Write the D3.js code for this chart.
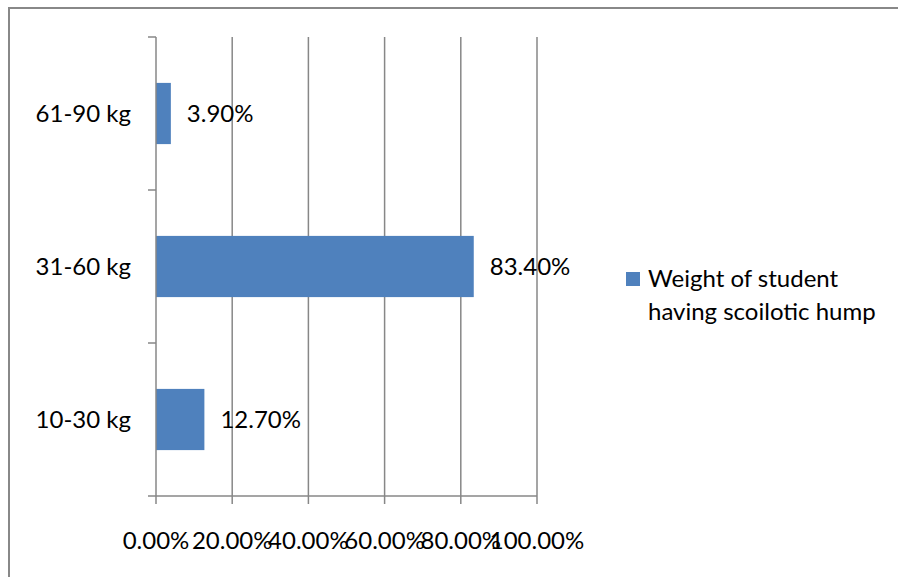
<!DOCTYPE html>
<html>
<head>
<meta charset="utf-8">
<script src="https://cdn.jsdelivr.net/npm/d3@7"></script>
<style>
  body { margin: 0; background: #fff; }
  svg text { font-family: Lato, "Noto Sans", sans-serif; fill: #000; }
</style>
</head>
<body>
<svg id="chart" width="898" height="577"></svg>
<script>
// data
var categories = ["10-30 kg", "31-60 kg", "61-90 kg"];
var values = [12.7, 83.4, 3.9];
var valueLabels = ["12.70%", "83.40%", "3.90%"];
var xTicks = [0, 20, 40, 60, 80, 100];
var xTickLabels = ["0.00%", "20.00%", "40.00%", "60.00%", "80.00%", "100.00%"];
var seriesName = ["Weight of student", "having scoilotic hump"];

var barColor = "#4f81bd";
var gridColor = "#878787";

var svg = d3.select("#chart");

// outer frame (only top and left visible)
svg.append("line").attr("x1", 8).attr("x2", 898).attr("y1", 8).attr("y2", 8)
   .attr("stroke", "#888").attr("stroke-width", 2);
svg.append("line").attr("x1", 9).attr("x2", 9).attr("y1", 8).attr("y2", 577)
   .attr("stroke", "#888").attr("stroke-width", 2);

var plotLeft = 156, plotRight = 537, plotTop = 37, plotBottom = 496;

var x = d3.scaleLinear().domain([0, 100]).range([plotLeft, plotRight]);
var y = d3.scaleBand().domain(categories.slice().reverse()).range([plotTop, plotBottom])
          .paddingInner(0.6).paddingOuter(0.3);
var yEdge = d3.scaleLinear().domain([0, categories.length]).range([plotBottom, plotTop]);

// gridlines
svg.append("g").selectAll("line").data(xTicks.slice(1)).enter().append("line")
   .attr("x1", function(d) { return x(d); })
   .attr("x2", function(d) { return x(d); })
   .attr("y1", plotTop).attr("y2", plotBottom)
   .attr("stroke", gridColor).attr("stroke-width", 1.5);

// bars
svg.append("g").selectAll("rect").data(values).enter().append("rect")
   .attr("x", x(0))
   .attr("y", function(d, i) { return y(categories[i]); })
   .attr("width", function(d) { return x(d) - x(0); })
   .attr("height", y.bandwidth())
   .attr("fill", barColor);

// value labels
svg.append("g").selectAll("text").data(values).enter().append("text")
   .attr("x", function(d) { return x(d) + 16; })
   .attr("y", function(d, i) { return y(categories[i]) + y.bandwidth() / 2; })
   .attr("dy", "0.35em")
   .style("font-size", "24px")
   .text(function(d, i) { return valueLabels[i]; });

// y axis line and ticks
var axis = svg.append("g").attr("stroke", gridColor).attr("stroke-width", 1.5);
axis.append("line").attr("x1", x(0)).attr("x2", x(0)).attr("y1", plotTop).attr("y2", plotBottom);
axis.selectAll(".ytick").data(d3.range(categories.length + 1)).enter().append("line")
   .attr("x1", x(0) - 8).attr("x2", x(0))
   .attr("y1", function(d) { return yEdge(d); })
   .attr("y2", function(d) { return yEdge(d); });

// x axis line and ticks
axis.append("line").attr("x1", x(0)).attr("x2", x(100)).attr("y1", plotBottom).attr("y2", plotBottom);
axis.selectAll(".xtick").data(xTicks).enter().append("line")
   .attr("x1", function(d) { return x(d); })
   .attr("x2", function(d) { return x(d); })
   .attr("y1", plotBottom).attr("y2", plotBottom + 8);

// category labels
svg.append("g").selectAll("text").data(categories).enter().append("text")
   .attr("x", 131)
   .attr("y", function(d) { return y(d) + y.bandwidth() / 2; })
   .attr("dy", "0.35em")
   .attr("text-anchor", "end")
   .style("font-size", "24px")
   .text(function(d) { return d; });

// x tick labels
svg.append("g").selectAll("text").data(xTicks).enter().append("text")
   .attr("x", function(d) { return x(d); })
   .attr("y", 541)
   .attr("dy", "0.35em")
   .attr("text-anchor", "middle")
   .style("font-size", "24px")
   .text(function(d, i) { return xTickLabels[i]; });

// legend
svg.append("rect").attr("x", 626).attr("y", 272).attr("width", 14).attr("height", 14).attr("fill", barColor);
svg.append("g").selectAll("text").data(seriesName).enter().append("text")
   .attr("x", 648)
   .attr("y", function(d, i) { return 279 + i * 33; })
   .attr("dy", "0.35em")
   .style("font-size", "24px")
   .text(function(d) { return d; });
</script>
</body>
</html>
